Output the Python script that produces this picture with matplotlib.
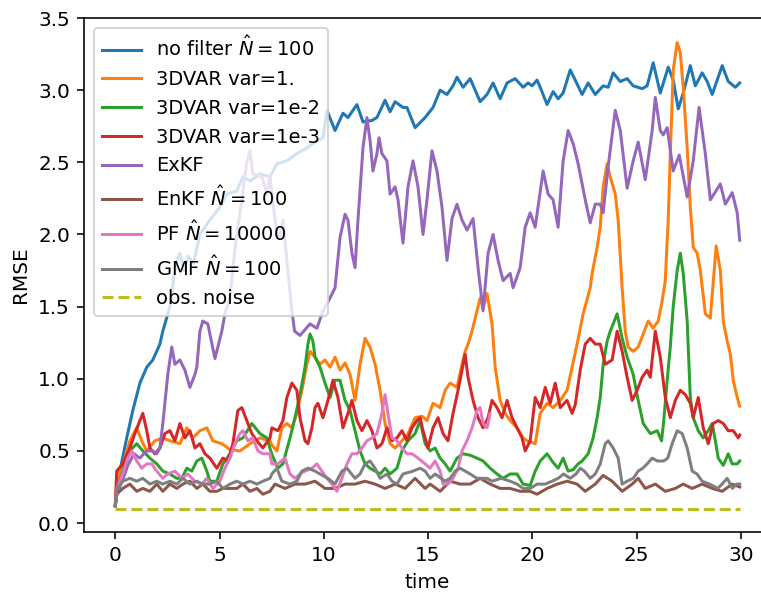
import matplotlib.pyplot as plt

# RMSE curves of the different filters over time

# no filter
t_nofilter = [0, 0.22, 0.55, 0.84, 1.18, 1.51, 1.8, 2.14, 2.28, 2.62, 2.9, 3.1, 3.3, 3.5, 3.75,
              4.06, 4.54, 5.02, 5.35, 5.83, 6.12, 6.46, 6.94, 7.42, 7.75, 8.23, 8.71, 9.19, 9.48,
              9.96, 10.15, 10.54, 10.92, 11.16, 11.59, 11.88, 12.31, 12.55, 12.94, 13.18, 13.42,
              13.8, 13.99, 14.38, 14.86, 15.24, 15.58, 15.91, 16.2, 16.39, 16.68, 17.02, 17.5,
              17.83, 18.12, 18.46, 18.79, 19.18, 19.56, 19.8, 19.99, 20.23, 20.38, 20.71, 21.0,
              21.24, 21.48, 21.82, 22.06, 22.39, 22.68, 23.02, 23.4, 23.64, 23.88, 24.22, 24.55,
              24.84, 25.27, 25.51, 25.8, 26.14, 26.52, 26.76, 27.0, 27.24, 27.58, 27.82, 28.15,
              28.39, 28.63, 29.11, 29.4, 29.74, 29.95]
rmse_nofilter = [0.12, 0.36, 0.59, 0.78, 0.97, 1.08, 1.13, 1.24, 1.33, 1.5, 1.8, 1.87, 1.75, 1.85, 1.8,
                 2.0, 2.1, 2.19, 2.28, 2.3, 2.4, 2.37, 2.42, 2.4, 2.49, 2.51, 2.56, 2.6, 2.63,
                 2.67, 2.86, 2.72, 2.84, 2.81, 2.9, 2.78, 2.79, 2.81, 2.93, 2.85, 2.92,
                 2.88, 2.88, 2.74, 2.81, 2.88, 3.0, 2.97, 3.03, 3.09, 3.02, 3.08, 2.92,
                 2.97, 3.05, 2.94, 3.05, 3.08, 3.02, 3.05, 3.03, 3.07, 3.02, 2.9, 2.99,
                 2.94, 2.98, 3.14, 3.07, 2.97, 3.05, 2.97, 3.03, 3.02, 3.12, 3.06, 3.08,
                 3.03, 3.01, 3.03, 3.19, 2.98, 3.16, 3.07, 2.87, 2.98, 3.17, 3.03, 3.12,
                 3.06, 2.97, 3.17, 3.06, 3.02, 3.05]

# 3DVAR var=1.
t_var1 = [0, 0.07, 0.36, 0.7, 1.03, 1.27, 1.51, 1.9, 2.28, 2.62, 3.1, 3.43, 3.72, 4.06, 4.39, 4.68,
          5.11, 5.5, 5.98, 6.46, 6.94, 7.42, 7.51, 7.75, 7.99, 8.23, 8.47, 8.71, 8.95, 9.19, 9.34,
          9.58, 9.82, 10.06, 10.3, 10.54, 10.78, 11.02, 11.26, 11.5, 11.74, 11.98, 12.22, 12.46,
          12.7, 12.94, 13.18, 13.42, 13.75, 14.04, 14.38, 14.71, 14.95, 15.24, 15.58, 15.82,
          16.06, 16.39, 16.63, 16.78, 16.92, 17.11, 17.5, 17.64, 17.83, 18.07, 18.22, 18.46,
          18.7, 18.94, 19.27, 19.56, 19.75, 20.14, 20.38, 20.71, 21.0, 21.34, 21.67, 21.91,
          22.15, 22.44, 22.78, 22.87, 23.11, 23.26, 23.4, 23.59, 23.74, 23.98, 24.12, 24.31,
          24.46, 24.6, 24.84, 25.08, 25.32, 25.56, 25.8, 26.04, 26.23, 26.38, 26.52, 26.62,
          26.76, 26.95, 27.1, 27.24, 27.43, 27.58, 27.72, 27.91, 28.06, 28.3, 28.54, 28.82,
          29.02, 29.16, 29.35, 29.5, 29.64, 29.83, 29.95]
rmse_var1 = [0.12, 0.3, 0.4, 0.57, 0.66, 0.57, 0.5, 0.57, 0.59, 0.57, 0.55, 0.66, 0.59, 0.64, 0.66, 0.57,
             0.55, 0.51, 0.5, 0.55, 0.59, 0.57, 0.54, 0.5, 0.66, 0.69, 0.66, 0.76, 0.92, 1.1, 1.19,
             1.15, 1.1, 1.13, 1.08, 1.15, 1.06, 1.11, 1.03, 0.85, 1.1, 1.28, 1.22, 1.1,
             0.92, 0.69, 0.55, 0.52, 0.57, 0.62, 0.73, 0.74, 0.71, 0.83, 0.8, 0.92,
             0.97, 0.94, 1.1, 1.19, 1.24, 1.33, 1.56, 1.49, 1.59, 1.38, 1.08, 0.85,
             0.76, 0.71, 0.66, 0.59, 0.57, 0.55, 0.76, 0.83, 0.8, 0.85, 0.92, 1.08,
             1.24, 1.45, 1.63, 1.73, 1.91, 2.05, 2.33, 2.49, 2.4, 2.28, 2.1, 1.63,
             1.33, 1.22, 1.19, 1.22, 1.31, 1.4, 1.35, 1.4, 1.54, 1.68, 2.1, 2.56,
             3.14, 3.33, 3.26, 3.02, 2.6, 2.19, 1.91, 1.87, 1.75, 1.45, 1.42, 1.92,
             1.75, 1.4, 1.26, 1.17, 0.99, 0.87, 0.81]

# 3DVAR var=1e-2
t_var2 = [0, 0.07, 0.36, 0.7, 1.03, 1.32, 1.66, 1.99, 2.28, 2.62, 2.95, 3.19, 3.43, 3.67, 3.91,
          4.15, 4.39, 4.54, 4.87, 5.16, 5.5, 5.83, 6.12, 6.55, 6.94, 7.27, 7.5, 7.8, 8.04, 8.38,
          8.62, 8.86, 9.1, 9.24, 9.34, 9.48, 9.58, 9.82, 10.06, 10.3, 10.54, 10.78, 11.02, 11.26,
          11.5, 11.74, 11.98, 12.22, 12.46, 12.7, 12.94, 13.18, 13.51, 13.75, 14.04, 14.38,
          14.62, 14.86, 15.1, 15.34, 15.58, 15.82, 16.06, 16.39, 16.68, 17.02, 17.35, 17.64,
          17.98, 18.31, 18.6, 18.94, 19.27, 19.56, 19.9, 20.14, 20.38, 20.71, 21.0, 21.24,
          21.48, 21.72, 21.96, 22.2, 22.39, 22.68, 22.92, 23.11, 23.26, 23.4, 23.59, 23.74,
          23.88, 24.07, 24.31, 24.55, 24.84, 25.08, 25.32, 25.66, 25.99, 26.2, 26.3, 26.47,
          26.62, 26.76, 26.95, 27.1, 27.24, 27.43, 27.58, 27.72, 27.96, 28.2, 28.44, 28.63,
          28.78, 28.92, 29.16, 29.4, 29.59, 29.83, 29.95]
rmse_var2 = [0.12, 0.22, 0.36, 0.5, 0.55, 0.5, 0.45, 0.41, 0.36, 0.34, 0.31, 0.31, 0.38, 0.36, 0.43,
             0.45, 0.36, 0.29, 0.29, 0.41, 0.48, 0.57, 0.59, 0.69, 0.62, 0.59, 0.48, 0.38, 0.41, 0.59,
             0.73, 0.89, 1.08, 1.24, 1.31, 1.26, 1.15, 1.08, 0.97, 0.87, 0.99, 0.99, 0.85, 0.78,
             0.64, 0.5, 0.41, 0.38, 0.36, 0.34, 0.38, 0.34, 0.38, 0.5, 0.57, 0.62,
             0.71, 0.55, 0.5, 0.52, 0.45, 0.41, 0.36, 0.45, 0.48, 0.47, 0.45, 0.43,
             0.38, 0.34, 0.31, 0.34, 0.34, 0.27, 0.26, 0.36, 0.43, 0.48, 0.42, 0.38,
             0.45, 0.36, 0.37, 0.41, 0.43, 0.48, 0.59, 0.73, 0.87, 1.1, 1.26, 1.33,
             1.38, 1.45, 1.28, 1.15, 1.03, 0.85, 0.69, 0.62, 0.64, 0.57, 0.7, 0.99,
             1.22, 1.5, 1.75, 1.87, 1.73, 1.4, 0.87, 0.73, 0.64, 0.59, 0.64, 0.69,
             0.57, 0.45, 0.4, 0.48, 0.41, 0.41, 0.43]

# 3DVAR var=1e-3
t_var3 = [0, 0.07, 0.36, 0.7, 0.94, 1.18, 1.32, 1.51, 1.66, 1.9, 2.14, 2.38, 2.62, 2.86, 3.1, 3.34,
          3.58, 3.82, 4.06, 4.3, 4.54, 4.87, 5.16, 5.4, 5.64, 5.88, 6.07, 6.31, 6.55, 6.79, 7.08,
          7.42, 7.51, 7.8, 8.04, 8.23, 8.47, 8.71, 8.86, 9.1, 9.24, 9.43, 9.58, 9.72, 9.96, 10.2,
          10.44, 10.68, 10.92, 11.16, 11.35, 11.59, 11.83, 12.07, 12.31, 12.55, 12.79, 13.03,
          13.27, 13.51, 13.75, 13.99, 14.23, 14.47, 14.62, 14.76, 15.0, 15.24, 15.48, 15.72,
          15.96, 16.2, 16.44, 16.63, 16.78, 16.92, 17.16, 17.4, 17.64, 17.88, 18.07, 18.31,
          18.55, 18.79, 19.03, 19.27, 19.51, 19.66, 19.9, 20.14, 20.38, 20.62, 20.86, 21.1,
          21.34, 21.67, 21.91, 22.06, 22.3, 22.54, 22.78, 23.02, 23.26, 23.5, 23.83, 24.07,
          24.31, 24.55, 24.79, 25.03, 25.27, 25.51, 25.66, 25.9, 26.14, 26.38, 26.62, 26.86,
          27.1, 27.34, 27.58, 27.72, 27.96, 28.2, 28.44, 28.68, 28.92, 29.16, 29.4, 29.64,
          29.88, 29.95]
rmse_var3 = [0.12, 0.36, 0.41, 0.52, 0.62, 0.71, 0.76, 0.64, 0.52, 0.48, 0.52, 0.62, 0.64, 0.57, 0.69, 0.59,
             0.64, 0.52, 0.55, 0.48, 0.45, 0.38, 0.45, 0.43, 0.55, 0.78, 0.8, 0.71, 0.62, 0.57, 0.52,
             0.59, 0.66, 0.64, 0.71, 0.87, 0.97, 0.92, 0.73, 0.57, 0.55, 0.66, 0.8, 0.83, 0.73, 0.85,
             0.99, 0.87, 0.66, 0.76, 0.85, 0.71, 0.64, 0.71, 0.64, 0.52, 0.55, 0.66,
             0.57, 0.59, 0.64, 0.57, 0.66, 0.71, 0.73, 0.64, 0.52, 0.66, 0.73, 0.62,
             0.57, 0.76, 0.92, 1.06, 1.17, 1.01, 0.85, 0.73, 0.66, 0.73, 0.85, 0.8,
             0.73, 0.85, 0.73, 0.66, 0.59, 0.5, 0.57, 0.87, 0.8, 0.94, 0.83, 0.97,
             0.8, 0.85, 0.76, 0.82, 1.06, 1.24, 1.28, 1.24, 1.24, 1.1, 1.13, 1.33,
             1.19, 1.01, 0.85, 0.92, 1.01, 1.06, 1.01, 1.33, 1.15, 0.87, 0.73, 0.85,
             0.92, 0.89, 0.83, 0.73, 0.87, 0.66, 0.55, 0.69, 0.71, 0.69, 0.64, 0.64,
             0.59, 0.61]

# ExKF
t_exkf = [0, 0.07, 0.36, 0.6, 0.9, 1.18, 1.5, 1.8, 1.99, 2.14, 2.28, 2.52, 2.71, 2.86, 3.1, 3.34,
          3.58, 3.82, 3.91, 4.06, 4.2, 4.44, 4.78, 5.11, 5.26, 5.5, 5.74, 5.98, 6.31, 6.46, 6.6,
          7.03, 7.27, 7.42, 7.75, 7.9, 8.04, 8.47, 8.6, 8.86, 9.34, 9.67, 9.96, 10.3, 10.54, 10.78,
          11.02, 11.16, 11.35, 11.5, 11.64, 11.88, 12.07, 12.22, 12.36, 12.55, 12.65, 12.79,
          13.03, 13.18, 13.42, 13.56, 13.8, 14.04, 14.28, 14.52, 14.76, 14.95, 15.19, 15.43,
          15.67, 15.91, 16.15, 16.39, 16.63, 16.87, 17.16, 17.4, 17.64, 17.88, 18.12, 18.36,
          18.6, 18.94, 19.08, 19.42, 19.66, 19.9, 20.14, 20.52, 20.76, 21.0, 21.24, 21.48,
          21.72, 21.96, 22.2, 22.54, 22.78, 23.02, 23.26, 23.4, 23.64, 23.98, 24.22, 24.55,
          24.84, 25.08, 25.42, 25.75, 25.9, 26.14, 26.28, 26.47, 26.76, 27.05, 27.43, 27.72,
          28.0, 28.3, 28.54, 29.02, 29.26, 29.59, 29.83, 29.95]
rmse_exkf = [0.12, 0.2, 0.3, 0.4, 0.48, 0.45, 0.5, 0.5, 0.48, 0.52, 0.69, 1.03, 1.22, 1.1, 1.13, 1.06,
             0.94, 1.03, 1.08, 1.33, 1.4, 1.38, 1.14, 1.33, 1.45, 1.56, 1.9, 2.15, 2.5, 2.58, 2.42,
             2.4, 2.28, 2.4, 2.0, 1.98, 2.1, 1.47, 1.33, 1.3, 1.38, 1.35, 1.47, 1.56, 1.63, 1.98,
             2.14, 2.1, 1.87, 1.77, 2.1, 2.6, 2.81, 2.65, 2.44, 2.56, 2.67, 2.56,
             2.51, 2.28, 2.33, 2.24, 1.94, 2.33, 2.51, 2.33, 2.0, 2.24, 2.58, 2.44,
             2.19, 1.82, 2.11, 2.21, 2.1, 2.03, 2.11, 1.77, 1.47, 1.87, 2.0, 1.82,
             1.68, 1.73, 1.63, 1.77, 2.05, 2.15, 2.05, 2.44, 2.28, 2.24, 2.05, 2.51,
             2.72, 2.63, 2.49, 2.24, 2.08, 2.21, 2.21, 2.15, 2.47, 2.86, 2.72, 2.32,
             2.51, 2.64, 2.38, 2.72, 2.95, 2.72, 2.69, 2.74, 2.44, 2.55, 2.26, 2.51,
             2.88, 2.56, 2.24, 2.35, 2.21, 2.29, 2.15, 1.96]

# EnKF
t_enkf = [0, 0.07, 0.36, 0.7, 1.03, 1.32, 1.66, 1.99, 2.28, 2.62, 2.95, 3.24, 3.58, 3.91, 4.2,
          4.54, 4.87, 5.16, 5.5, 5.83, 6.12, 6.46, 6.79, 7.08, 7.42, 7.66, 8.14, 8.62, 9.1, 9.58,
          10.06, 10.54, 11.02, 11.5, 11.98, 12.46, 12.94, 13.42, 13.9, 14.38, 14.86, 15.1, 15.58,
          16.06, 16.54, 17.02, 17.5, 17.98, 18.46, 18.94, 19.42, 19.9, 20.23, 20.71, 21.2, 21.67,
          22.15, 22.54, 23.02, 23.4, 23.83, 24.31, 24.79, 25.08, 25.42, 25.9, 26.38, 26.86,
          27.24, 27.67, 28.15, 28.63, 29.11, 29.59, 29.95]
rmse_enkf = [0.12, 0.2, 0.24, 0.27, 0.22, 0.24, 0.22, 0.27, 0.22, 0.27, 0.24, 0.27, 0.29, 0.24, 0.27,
             0.22, 0.22, 0.24, 0.24, 0.24, 0.27, 0.22, 0.24, 0.2, 0.22, 0.27, 0.24, 0.27, 0.27, 0.29,
             0.24, 0.24, 0.27, 0.27, 0.29, 0.27, 0.24, 0.27, 0.24, 0.31, 0.24, 0.27, 0.22,
             0.29, 0.27, 0.27, 0.31, 0.27, 0.24, 0.24, 0.22, 0.22, 0.2, 0.24, 0.27, 0.29,
             0.27, 0.22, 0.27, 0.33, 0.29, 0.22, 0.27, 0.31, 0.24, 0.27, 0.22, 0.24,
             0.27, 0.24, 0.27, 0.24, 0.22, 0.27, 0.25]

# PF (run stops at t~18)
t_pf = [0, 0.07, 0.36, 0.6, 0.79, 1.03, 1.27, 1.51, 1.75, 1.99, 2.28, 2.52, 2.86, 3.19, 3.48, 3.82,
        4.15, 4.39, 4.68, 5.02, 5.26, 5.5, 5.74, 5.98, 6.12, 6.36, 6.6, 6.84, 7.08, 7.42, 7.51,
        7.8, 8.14, 8.38, 8.62, 8.86, 9.1, 9.43, 9.67, 9.91, 10.15, 10.39, 10.63, 10.87, 11.11,
        11.35, 11.59, 11.83, 12.07, 12.31, 12.55, 12.79, 12.94, 13.08, 13.27, 13.51, 13.75,
        13.99, 14.23, 14.52, 14.86, 15.1, 15.34, 15.58, 15.72, 15.96, 16.2, 16.44, 16.63,
        16.87, 17.11, 17.35, 17.5, 17.64, 17.83, 17.98]
rmse_pf = [0.12, 0.24, 0.34, 0.45, 0.5, 0.43, 0.38, 0.41, 0.41, 0.36, 0.31, 0.34, 0.36, 0.31, 0.34, 0.29,
           0.27, 0.31, 0.24, 0.29, 0.38, 0.45, 0.55, 0.62, 0.64, 0.57, 0.59, 0.5, 0.48, 0.48, 0.41,
           0.41, 0.45, 0.34, 0.31, 0.34, 0.36, 0.38, 0.41, 0.36, 0.31, 0.27, 0.22, 0.31, 0.41,
           0.48, 0.48, 0.52, 0.57, 0.59, 0.62, 0.76, 0.89, 0.76, 0.59, 0.57, 0.52,
           0.48, 0.48, 0.45, 0.41, 0.38, 0.43, 0.36, 0.27, 0.27, 0.31, 0.38, 0.5,
           0.57, 0.66, 0.78, 0.8, 0.69, 0.66, 0.76]

# GMF
t_gmf = [0, 0.07, 0.36, 0.7, 1.03, 1.32, 1.66, 1.99, 2.28, 2.62, 2.95, 3.24, 3.58, 3.91, 4.2, 4.54,
         4.87, 5.16, 5.5, 5.83, 6.12, 6.46, 6.79, 7.08, 7.42, 7.51, 7.75, 7.99, 8.38, 8.71, 8.95,
         9.24, 9.58, 9.82, 10.2, 10.54, 10.87, 11.11, 11.5, 11.74, 11.98, 12.22, 12.46, 12.7,
         13.03, 13.27, 13.51, 13.8, 14.28, 14.62, 14.86, 15.1, 15.34, 15.82, 16.06, 16.3, 16.54,
         16.78, 17.02, 17.35, 17.83, 18.07, 18.5, 18.94, 19.27, 19.56, 19.9, 20.23, 20.62,
         20.95, 21.24, 21.5, 21.82, 22.1, 22.3, 22.5, 22.78, 23.02, 23.26, 23.5, 23.64, 23.88,
         24.12, 24.31, 24.55, 24.84, 25.08, 25.3, 25.51, 25.75, 26.0, 26.3, 26.5, 26.71, 26.95,
         27.19, 27.43, 27.67, 27.9, 28.15, 28.5, 28.9, 29.1, 29.35, 29.6, 29.8, 29.95]
rmse_gmf = [0.12, 0.24, 0.29, 0.31, 0.29, 0.31, 0.27, 0.29, 0.27, 0.29, 0.27, 0.31, 0.27, 0.29, 0.27, 0.27,
            0.29, 0.24, 0.27, 0.29, 0.27, 0.29, 0.27, 0.29, 0.31, 0.34, 0.38, 0.29, 0.27, 0.29, 0.36,
            0.38, 0.36, 0.34, 0.31, 0.27, 0.36, 0.38, 0.31, 0.34, 0.41, 0.43, 0.38, 0.31,
            0.34, 0.29, 0.27, 0.34, 0.36, 0.38, 0.36, 0.31, 0.34, 0.29, 0.31, 0.36, 0.38,
            0.36, 0.34, 0.31, 0.31, 0.29, 0.31, 0.29, 0.27, 0.24, 0.24, 0.27, 0.27,
            0.29, 0.31, 0.34, 0.31, 0.34, 0.38, 0.36, 0.31, 0.34, 0.41, 0.55, 0.57, 0.52,
            0.45, 0.27, 0.29, 0.31, 0.36, 0.38, 0.41, 0.45, 0.43, 0.43, 0.45, 0.55, 0.64,
            0.62, 0.52, 0.36, 0.34, 0.29, 0.27, 0.24, 0.27, 0.31, 0.24, 0.27, 0.27]

# observation noise level
t_obs = [0, 29.95]
obs_noise = [0.1, 0.1]

fig = plt.figure(figsize=(761 / 144, 594 / 144), dpi=144)
ax = fig.add_axes([84 / 761, 62 / 594, 687 / 761, 514 / 594])

ax.plot(t_nofilter, rmse_nofilter, label=r'no filter $\hat{N}=100$')
ax.plot(t_var1, rmse_var1, label='3DVAR var=1.')
ax.plot(t_var2, rmse_var2, label='3DVAR var=1e-2')
ax.plot(t_var3, rmse_var3, label='3DVAR var=1e-3')
ax.plot(t_exkf, rmse_exkf, label='ExKF')
ax.plot(t_enkf, rmse_enkf, label=r'EnKF $\hat{N}=100$')
ax.plot(t_pf, rmse_pf, label=r'PF $\hat{N}=10000$')
ax.plot(t_gmf, rmse_gmf, label=r'GMF $\hat{N}=100$')
ax.plot(t_obs, obs_noise, '--', label='obs. noise')

ax.set_xlim(-1.5, 31.45)
ax.set_ylim(-0.062, 3.5)
ax.set_xlabel('time')
ax.set_ylabel('RMSE')
ax.legend(loc='upper left', fontsize=9.75)

fig.savefig('out.png', dpi=144)
